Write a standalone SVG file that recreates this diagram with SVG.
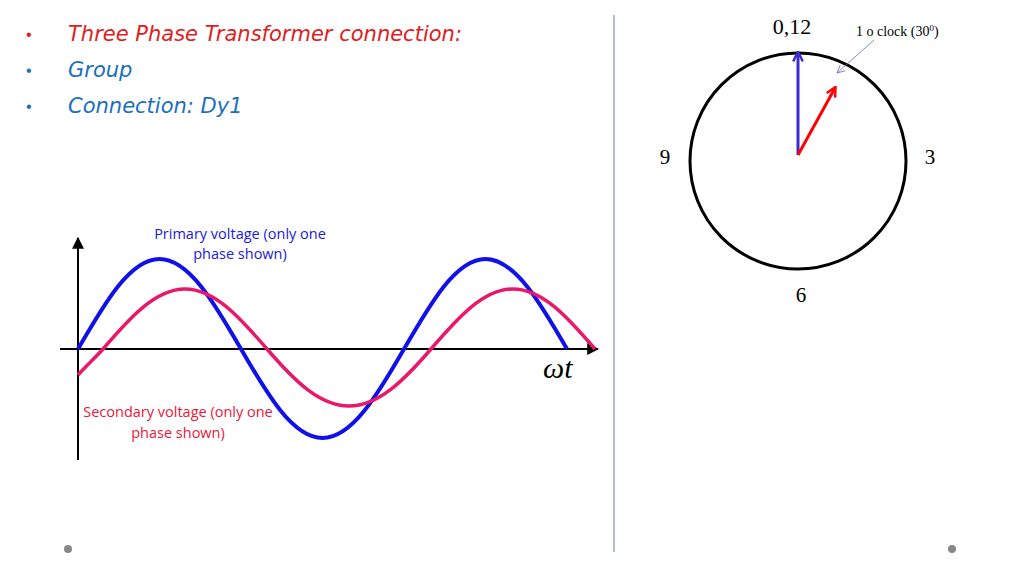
<svg xmlns="http://www.w3.org/2000/svg" width="1024" height="576" viewBox="0 0 1024 576">
<defs>
<style>
.h{font-family:"DejaVu Sans",sans-serif;font-style:italic;font-size:21px}
.s{font-family:"Liberation Serif",serif}
.c{font-family:"Open Sans",sans-serif;font-size:14.5px}
</style>
<marker id="ab" viewBox="0 0 10 10" refX="9" refY="5" markerWidth="6" markerHeight="6" orient="auto"><path d="M0,0L10,5L0,10z" fill="#000"/></marker>
<marker id="ob" viewBox="0 0 10 10" refX="8" refY="5" markerWidth="4" markerHeight="4" orient="auto"><path d="M1,1L9,5L1,9" fill="none" stroke="#3a2ad0" stroke-width="2"/></marker>
<marker id="or" viewBox="0 0 10 10" refX="8" refY="5" markerWidth="4" markerHeight="4" orient="auto"><path d="M1,1L9,5L1,9" fill="none" stroke="#f00" stroke-width="2"/></marker>
<marker id="ot" viewBox="0 0 10 10" refX="9" refY="5" markerWidth="12" markerHeight="12" orient="auto"><path d="M1,1L9,5L1,9" fill="none" stroke="#6a6ab8" stroke-width="0.8"/></marker>
</defs>
<rect width="1024" height="576" fill="#fff"/>
<g id="title">
<text x="26" y="40" font-family="Liberation Sans" font-size="16" fill="#e02020">•</text>
<text x="26" y="76" font-family="Liberation Sans" font-size="16" fill="#1a6fc0">•</text>
<text x="26" y="112" font-family="Liberation Sans" font-size="16" fill="#1a6fc0">•</text>
<text class="h" x="68" y="41" fill="#e02020">Three Phase Transformer connection:</text>
<text class="h" x="68" y="77" fill="#1a6fc0">Group</text>
<text class="h" x="68" y="113" fill="#1a6fc0">Connection: Dy1</text>
</g>
<line x1="614" y1="15" x2="614" y2="552" stroke="#8090c0" stroke-width="1.2"/>
<circle cx="68" cy="549" r="4" fill="#888"/>
<circle cx="952" cy="549" r="4" fill="#888"/>
<g id="graph">
<line x1="78" y1="460" x2="78" y2="238" stroke="#000" stroke-width="2" marker-end="url(#ab)"/>
<line x1="60" y1="349" x2="598" y2="349" stroke="#000" stroke-width="2" marker-end="url(#ab)"/>
<path d="M78,349 C104.6,303 130,259 159.5,259 S214.4,303 241,349 S293,438 322.5,438 S377.4,395 404,349 S456,259 485.5,259 S540.4,303 567,349" fill="none" stroke="#1010e8" stroke-width="4"/>
<path d="M78,375 C86,366 95,358 103,349 C129.7,318 155.3,289 185,289 S240.3,318 267,349 S319.3,406 349,406 S404.3,380 431,349 S483.3,289 513,289 S568.3,318 595,349" fill="none" stroke="#e8186a" stroke-width="3.5"/>
<text x="240" y="239" class="c" fill="#1a1ad8" text-anchor="middle">Primary voltage (only one</text>
<text x="240" y="259" class="c" fill="#1a1ad8" text-anchor="middle">phase shown)</text>
<text x="178" y="417" class="c" fill="#e8183a" text-anchor="middle">Secondary voltage (only one</text>
<text x="178" y="438" class="c" fill="#e8183a" text-anchor="middle">phase shown)</text>
<text x="543" y="378" font-family="Liberation Serif" font-style="italic" font-size="30">ωt</text>
</g>
<g id="clock">
<circle cx="798" cy="161" r="108" fill="none" stroke="#000" stroke-width="3"/>
<line x1="798" y1="155" x2="798" y2="53" stroke="#3a2ad0" stroke-width="3" marker-end="url(#ob)"/>
<line x1="798" y1="155" x2="835" y2="88" stroke="#f00" stroke-width="3" marker-end="url(#or)"/>
<line x1="874" y1="40" x2="837" y2="73" stroke="#6a6ab8" stroke-width="0.8" marker-end="url(#ot)"/>
<text class="s" x="792" y="34" font-size="22" text-anchor="middle">0,12</text>
<text class="s" x="856" y="36" font-size="14">1 o clock (30<tspan baseline-shift="super" font-size="9">0</tspan>)</text>
<text class="s" x="665" y="164" font-size="21" text-anchor="middle">9</text>
<text class="s" x="930" y="164" font-size="21" text-anchor="middle">3</text>
<text class="s" x="801" y="302" font-size="21" text-anchor="middle">6</text>
</g>
</svg>
